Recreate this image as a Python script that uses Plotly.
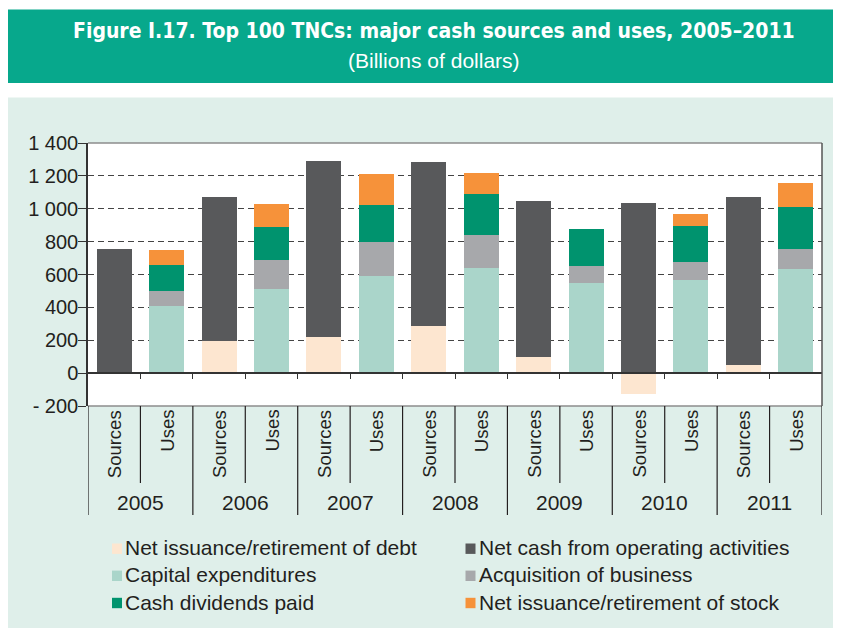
import plotly.graph_objects as go

# ---------------- data (billions of dollars) ----------------
years = ["2005", "2006", "2007", "2008", "2009", "2010", "2011"]
kinds = ["Sources", "Uses"]

# Sources
net_debt = [0, 197, 222, 289, 98, -125, 51]
net_operating = [758, 873, 1068, 995, 949, 1033, 1021]
# Uses
capital_expenditures = [411, 509, 589, 640, 546, 568, 631]
acquisition_business = [86, 181, 207, 199, 104, 106, 125]
cash_dividends = [163, 200, 228, 251, 226, 222, 254]
net_stock = [88, 137, 188, 128, 0, 72, 145]

y_tickvals = [-200, 0, 200, 400, 600, 800, 1000, 1200, 1400]
y_ticktext = ["- 200", "0", "200", "400", "600", "800", "1 000", "1 200", "1 400"]

series_names = [
    "Net issuance/retirement of debt",
    "Net cash from operating activities",
    "Capital expenditures",
    "Acquisition of business",
    "Cash dividends paid",
    "Net issuance/retirement of stock",
]
colors = ["#FDE6D0", "#58595B", "#AAD5CA", "#A7A8AB", "#00936E", "#F6923A"]

# ---------------- layout geometry (window pixels) ----------------
OX, OY = 8, 8            # page body margin
WIN_W, WIN_H = 841, 628
W, H = WIN_W - OX, WIN_H - OY
PL, PR, PT, PB = 88, 822, 143, 406   # plot area in window pixels
ML, MR, MT, MB = PL - OX, WIN_W - PR, PT - OY, WIN_H - PB
PW = PR - PL
PH = PB - PT


def px(xp):
    return (xp - PL) / PW


def py(yp):
    return (PB - yp) / PH


TXT = "#231F20"
FONT = "Liberation Sans, Arial, Helvetica, sans-serif"

n_years = len(years)
x_src = [2 * i for i in range(n_years)]
x_use = [2 * i + 1 for i in range(n_years)]

fig = go.Figure()
series_x = [x_src, x_src, x_use, x_use, x_use, x_use]
series_y = [net_debt, net_operating, capital_expenditures, acquisition_business,
            cash_dividends, net_stock]
for name, xs, ys, c in zip(series_names, series_x, series_y, colors):
    fig.add_trace(go.Bar(x=xs, y=ys, name=name, marker_color=c,
                         marker_line_width=0, width=0.67, showlegend=False))

shapes = []
# banner + panel + plot area backgrounds
shapes.append(dict(type="rect", xref="paper", yref="paper", layer="below",
                   x0=px(8), x1=px(845), y0=py(83), y1=py(9.5),
                   fillcolor="#07A88C", line_width=0))
shapes.append(dict(type="rect", xref="paper", yref="paper", layer="below",
                   x0=px(8), x1=px(845), y0=py(632), y1=py(97.5),
                   fillcolor="#DFEFEA", line_width=0))
shapes.append(dict(type="rect", xref="paper", yref="paper", layer="below",
                   x0=0, x1=1, y0=0, y1=1, fillcolor="white", line_width=0))
# plot frame
shapes.append(dict(type="line", xref="paper", yref="paper", x0=0, x1=1, y0=1, y1=1,
                   line=dict(color="#8C8C8C", width=1.5)))
shapes.append(dict(type="line", xref="paper", yref="paper", x0=0, x1=1, y0=0, y1=0,
                   line=dict(color="#8C8C8C", width=1.5)))
shapes.append(dict(type="line", xref="paper", yref="paper", x0=1, x1=1, y0=0, y1=1,
                   line=dict(color="#555555", width=1.5)))
# category dividers below the plot
for k in range(n_years + 1):
    shapes.append(dict(type="line", xref="x", yref="paper",
                       x0=2 * k - 0.5, x1=2 * k - 0.5, y0=0, y1=py(515),
                       line=dict(color=TXT, width=1.2)))
for k in range(n_years):
    shapes.append(dict(type="line", xref="x", yref="paper",
                       x0=2 * k + 0.5, x1=2 * k + 0.5, y0=0, y1=py(483),
                       line=dict(color=TXT, width=1.2)))

annotations = []
# title
annotations.append(dict(xref="paper", yref="paper", x=px(434), y=py(31),
                        text="<b>Figure I.17. Top 100 TNCs: major cash sources and uses, 2005\u20132011</b>",
                        showarrow=False, xanchor="center", yanchor="middle",
                        font=dict(family="DejaVu Sans Condensed, Liberation Sans Narrow, sans-serif",
                                  size=21, color="white")))
annotations.append(dict(xref="paper", yref="paper", x=px(434), y=py(60),
                        text="(Billions of dollars)",
                        showarrow=False, xanchor="center", yanchor="middle",
                        font=dict(family=FONT, size=21, color="white")))
# sub-category labels
for i in range(n_years):
    for xpos, kind in zip([x_src[i], x_use[i]], kinds):
        annotations.append(dict(xref="x", yref="paper", x=xpos, y=py(408),
                                text=kind, textangle=-90, showarrow=False,
                                xanchor="center", yanchor="top",
                                font=dict(family=FONT, size=18.5, color=TXT)))
    annotations.append(dict(xref="x", yref="paper", x=2 * i + 0.5, y=py(502),
                            text=years[i], showarrow=False,
                            xanchor="center", yanchor="middle",
                            font=dict(family=FONT, size=21, color=TXT)))

# manual legend (two columns, three rows)
leg_rows = [548.7, 575.8, 603]
leg_cols = [(112, 125), (465.5, 479)]
for idx, (name, c) in enumerate(zip(series_names, colors)):
    r, col = idx // 2, idx % 2
    mx, tx = leg_cols[col]
    yc = leg_rows[r]
    shapes.append(dict(type="rect", xref="paper", yref="paper",
                       x0=px(mx), x1=px(mx + 10), y0=py(yc + 5.2), y1=py(yc - 5.2),
                       fillcolor=c, line_width=0))
    annotations.append(dict(xref="paper", yref="paper", x=px(tx - 2), y=py(yc - 1),
                            text=name, showarrow=False, xanchor="left", yanchor="middle",
                            font=dict(family=FONT, size=21, color=TXT)))

fig.update_layout(
    width=W, height=H,
    margin=dict(l=ML, r=MR, t=MT, b=MB, pad=0),
    paper_bgcolor="white", plot_bgcolor="white",
    barmode="relative", bargap=0,
    showlegend=False,
    font=dict(family=FONT, color=TXT),
    shapes=shapes, annotations=annotations,
    xaxis=dict(range=[-0.5, 2 * n_years - 0.5], anchor="free", position=0.125,
               tickvals=[k + 0.5 for k in range(2 * n_years - 1)],
               ticks="outside", ticklen=5, tickcolor="#333333", tickwidth=1.2,
               showticklabels=False, showline=True, linecolor="#333333", linewidth=1.5,
               showgrid=False, zeroline=False, fixedrange=True),
    yaxis=dict(range=[-200, 1400], tickvals=y_tickvals, ticktext=y_ticktext,
               ticks="outside", ticklen=8, tickcolor="#333333", tickwidth=1.2,
               tickfont=dict(size=20, color=TXT), ticklabelstandoff=-4,
               showline=True, linecolor="#333333", linewidth=1.5,
               showgrid=True, gridcolor="#444444", gridwidth=1, griddash="6px,4px",
               zeroline=False, fixedrange=True),
)

fig.write_html("out.html")
